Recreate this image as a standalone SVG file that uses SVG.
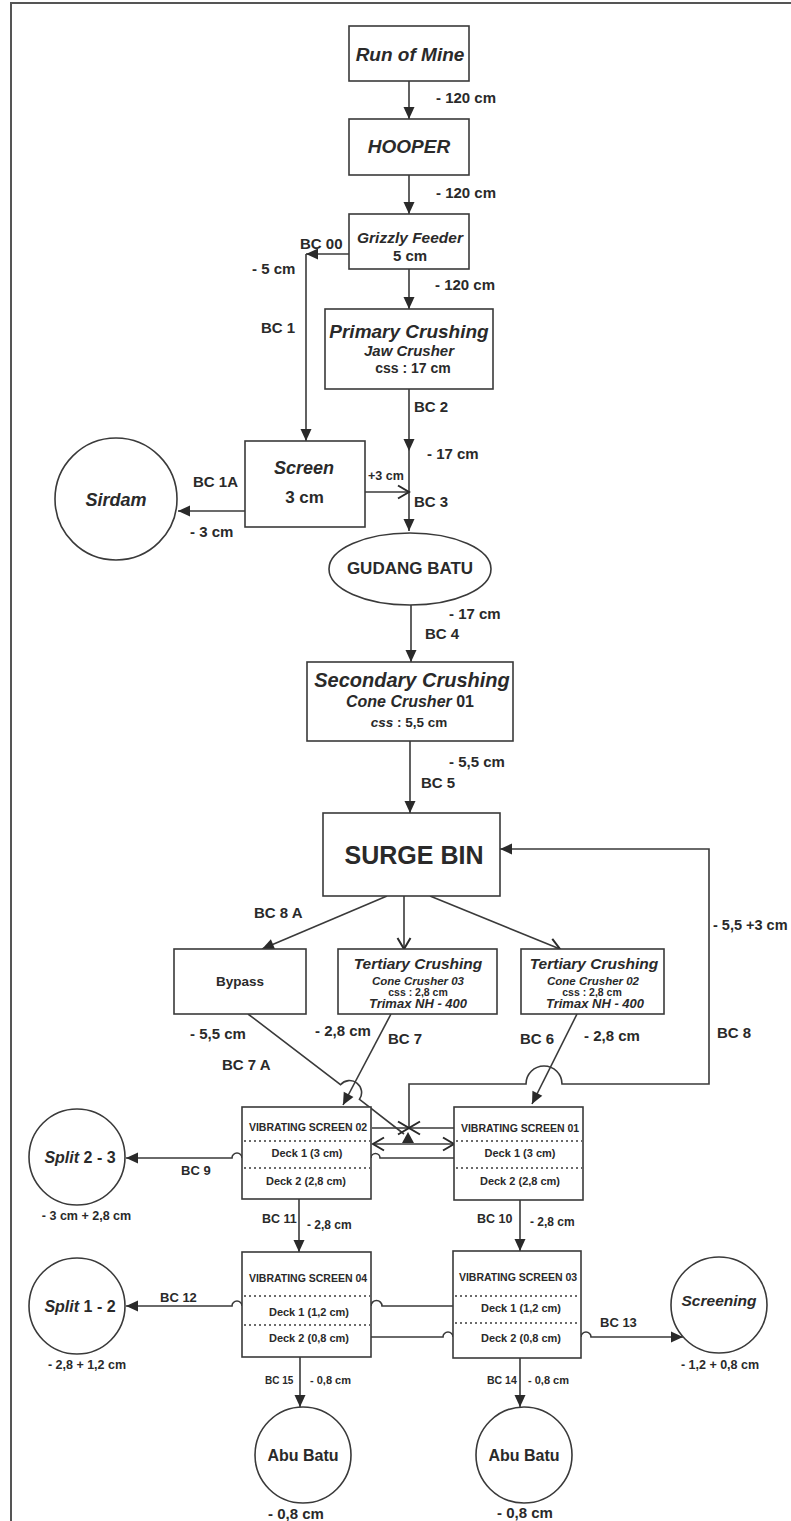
<svg xmlns="http://www.w3.org/2000/svg" width="791" height="1521" viewBox="0 0 791 1521">
<style>
.t{font-family:"Liberation Sans",Arial,sans-serif;font-weight:bold;fill:#2a2a2a}
.i{font-style:italic}
.c{text-anchor:middle}
.box{fill:#fff;stroke:#3a3a3a;stroke-width:1.6}
.ln{fill:none;stroke:#3a3a3a;stroke-width:1.6}
.dot{stroke:#3a3a3a;stroke-width:1.6;stroke-dasharray:2 3}
</style>
<defs>
<marker id="ah" markerUnits="userSpaceOnUse" markerWidth="14" markerHeight="14" refX="12" refY="6" orient="auto" style="overflow:visible"><path d="M0,0.5 L12,6 L0,11.5 z" fill="#2a2a2a"/></marker>
<marker id="oh" markerUnits="userSpaceOnUse" markerWidth="14" markerHeight="16" refX="12" refY="7" orient="auto-start-reverse" style="overflow:visible"><path d="M1,0.5 L12,7 L1,13.5" fill="none" stroke="#2a2a2a" stroke-width="2"/></marker>
</defs>
<rect width="791" height="1521" fill="#fff"/>
<path d="M11,1521 V3 H791" fill="none" stroke="#555" stroke-width="2"/>

<g id="connectors">
<path class="ln" d="M409,81 V119" marker-end="url(#ah)"/>
<path class="ln" d="M409,175 V214" marker-end="url(#ah)"/>
<path class="ln" d="M349,254 H306" marker-end="url(#ah)"/>
<path class="ln" d="M306,254 V441" marker-end="url(#ah)"/>
<path class="ln" d="M409,269 V309" marker-end="url(#ah)"/>
<path class="ln" d="M409,389 V451" marker-end="url(#ah)"/>
<path class="ln" d="M409,451 V531" marker-end="url(#ah)"/>
<path class="ln" d="M365,492 H409" marker-end="url(#oh)"/>
<path class="ln" d="M245,511 H178" marker-end="url(#ah)"/>
<path class="ln" d="M411,605 V662" marker-end="url(#ah)"/>
<path class="ln" d="M410,741 V813" marker-end="url(#ah)"/>
<path class="ln" d="M387,896 L262,949" marker-end="url(#ah)"/>
<path class="ln" d="M404,896 V949" marker-end="url(#oh)"/>
<path class="ln" d="M430,896 L560,949" marker-end="url(#oh)"/>
<path class="ln" d="M391,1014 L343,1105" marker-end="url(#ah)"/>
<path class="ln" d="M577,1014 L532,1104" marker-end="url(#ah)"/>
<path class="ln" d="M248,1014 L340.5,1084.7 A12,12 0 0 1 359.5,1099.3 L404,1134"/>
<polygon points="402,1143 408,1132 414,1143" fill="#2a2a2a"/>
<path class="ln" d="M409,1128 V1084 H526 A18,18 0 0 1 562,1084 H709 V849 H500" marker-end="url(#ah)"/>
<path class="ln" d="M372,1128 H409" marker-end="url(#oh)"/>
<path class="ln" d="M454,1128 H409" marker-end="url(#oh)"/>
<path class="ln" d="M373,1144 H454" marker-start="url(#oh)" marker-end="url(#oh)"/>
<path class="ln" d="M371,1158 A4.5,4.5 0 0 1 380,1158 H454"/>
<path class="ln" d="M242,1158 A5,5 0 0 0 232,1158 H126" marker-end="url(#ah)"/>
<path class="ln" d="M299,1199 V1252" marker-end="url(#ah)"/>
<path class="ln" d="M520,1200 V1251" marker-end="url(#ah)"/>
<path class="ln" d="M242,1306 A5,5 0 0 0 232,1306 H126" marker-end="url(#ah)"/>
<path class="ln" d="M371,1306 A5.5,5.5 0 0 1 382,1306 H453"/>
<path class="ln" d="M371,1337 H443 A5,5 0 0 1 453,1337"/>
<path class="ln" d="M581,1337 A5,5 0 0 1 591,1337 H683" marker-end="url(#ah)"/>
<path class="ln" d="M300,1357 V1407" marker-end="url(#ah)"/>
<path class="ln" d="M520,1358 V1407" marker-end="url(#ah)"/>
</g>

<g id="labels">
<text class="t" x="436" y="102.5" font-size="15">- 120 cm</text>
<text class="t" x="436" y="197.5" font-size="15">- 120 cm</text>
<text class="t" x="435" y="289.5" font-size="15">- 120 cm</text>
<text class="t" x="300" y="248.5" font-size="15">BC 00</text>
<text class="t" x="252" y="273.5" font-size="15">- 5 cm</text>
<text class="t" x="261" y="332.5" font-size="15">BC 1</text>
<text class="t" x="414" y="411.5" font-size="15">BC 2</text>
<text class="t" x="427" y="458.5" font-size="15">- 17 cm</text>
<text class="t" x="368" y="479.5" font-size="12.5">+3 cm</text>
<text class="t" x="414" y="506.5" font-size="15">BC 3</text>
<text class="t" x="193" y="486.5" font-size="15">BC 1A</text>
<text class="t" x="190" y="536.5" font-size="15">- 3 cm</text>
<text class="t" x="449" y="618.5" font-size="15">- 17 cm</text>
<text class="t" x="425" y="638.5" font-size="15">BC 4</text>
<text class="t" x="449" y="766.5" font-size="15">- 5,5 cm</text>
<text class="t" x="421" y="787.5" font-size="15">BC 5</text>
<text class="t" x="254" y="917.5" font-size="15">BC 8 A</text>
<text class="t" x="713" y="929.5" font-size="14.5">- 5,5 +3 cm</text>
<text class="t" x="717" y="1037.5" font-size="15">BC 8</text>
<text class="t" x="190" y="1038.5" font-size="15">- 5,5 cm</text>
<text class="t" x="315" y="1035.5" font-size="15">- 2,8 cm</text>
<text class="t" x="388" y="1043.5" font-size="15">BC 7</text>
<text class="t" x="520" y="1043.5" font-size="15">BC 6</text>
<text class="t" x="584" y="1040.5" font-size="15">- 2,8 cm</text>
<text class="t" x="222" y="1069.5" font-size="15">BC 7 A</text>
<text class="t" x="181" y="1174.5" font-size="13">BC 9</text>
<text class="t" x="262" y="1222.5" font-size="12.5">BC 11</text>
<text class="t" x="307" y="1229" font-size="12">- 2,8 cm</text>
<text class="t" x="477" y="1222.5" font-size="12.5">BC 10</text>
<text class="t" x="530" y="1226" font-size="12">- 2,8 cm</text>
<text class="t" x="160" y="1301.5" font-size="13">BC 12</text>
<text class="t" x="600" y="1326.5" font-size="13">BC 13</text>
<text class="t" x="265" y="1383.5" font-size="10">BC 15</text>
<text class="t" x="310" y="1384" font-size="11">- 0,8 cm</text>
<text class="t" x="487" y="1384" font-size="10.5">BC 14</text>
<text class="t" x="528" y="1384" font-size="11">- 0,8 cm</text>
</g>

<g id="run-of-mine">
<rect class="box" x="349" y="26" width="120" height="55"/>
<text class="t i c" x="410" y="61" font-size="19">Run of Mine</text>
</g>
<g id="hooper">
<rect class="box" x="349" y="119" width="120" height="56"/>
<text class="t i c" x="409" y="153" font-size="19">HOOPER</text>
</g>
<g id="grizzly-feeder">
<rect class="box" x="349" y="214" width="120" height="55"/>
<text class="t i c" x="410" y="242.5" font-size="15.5">Grizzly Feeder</text>
<text class="t c" x="410" y="261" font-size="15">5 cm</text>
</g>
<g id="primary-crushing">
<rect class="box" x="325" y="309" width="168" height="80"/>
<text class="t i c" x="409" y="338" font-size="19">Primary Crushing</text>
<text class="t i c" x="409" y="355.5" font-size="15">Jaw Crusher</text>
<text class="t c" x="413" y="373" font-size="14">css : 17 cm</text>
</g>
<g id="screen">
<rect class="box" x="245" y="441" width="120" height="86"/>
<text class="t i c" x="304" y="473.5" font-size="18">Screen</text>
<text class="t c" x="304.5" y="503" font-size="17">3 cm</text>
</g>
<g id="sirdam">
<circle class="box" cx="116" cy="499" r="61"/>
<text class="t i c" x="116" y="505.5" font-size="18">Sirdam</text>
</g>
<g id="gudang-batu">
<ellipse class="box" cx="410" cy="569" rx="81" ry="36"/>
<text class="t c" x="410" y="574" font-size="17">GUDANG BATU</text>
</g>
<g id="secondary-crushing">
<rect class="box" x="307" y="662" width="206" height="79"/>
<text class="t i c" x="412" y="687" font-size="20">Secondary Crushing</text>
<text class="t c" x="410" y="707" font-size="16"><tspan class="i">Cone Crusher</tspan> 01</text>
<text class="t c" x="409" y="727" font-size="13.5"><tspan class="i">css</tspan> : 5,5 cm</text>
</g>
<g id="surge-bin">
<rect class="box" x="323" y="813" width="177" height="83"/>
<text class="t c" x="414" y="864" font-size="25">SURGE BIN</text>
</g>
<g id="bypass">
<rect class="box" x="174" y="949" width="132" height="65"/>
<text class="t c" x="240" y="986" font-size="13.5">Bypass</text>
</g>
<g id="tertiary-crushing-03">
<rect class="box" x="338" y="949" width="159" height="65"/>
<text class="t i c" x="418" y="968.5" font-size="15.5">Tertiary Crushing</text>
<text class="t i c" x="418" y="985" font-size="11.5">Cone Crusher 03</text>
<text class="t c" x="418" y="995.5" font-size="10.5">css : 2,8 cm</text>
<text class="t i c" x="418" y="1008" font-size="13">Trimax NH - 400</text>
</g>
<g id="tertiary-crushing-02">
<rect class="box" x="521" y="949" width="143" height="65"/>
<text class="t i c" x="594" y="968.5" font-size="15.5">Tertiary Crushing</text>
<text class="t i c" x="593" y="985" font-size="11.5">Cone Crusher 02</text>
<text class="t c" x="592" y="995.5" font-size="10.5">css : 2,8 cm</text>
<text class="t i c" x="595" y="1008" font-size="13">Trimax NH - 400</text>
</g>
<g id="vibrating-screen-02">
<rect class="box" x="242" y="1107" width="129" height="92"/>
<line class="dot" x1="244" y1="1141" x2="370" y2="1141"/>
<line class="dot" x1="244" y1="1168" x2="370" y2="1168"/>
<text class="t c" x="308" y="1131" font-size="10.5">VIBRATING SCREEN 02</text>
<text class="t c" x="307" y="1157" font-size="11">Deck 1 (3 cm)</text>
<text class="t c" x="306" y="1185" font-size="11">Deck 2 (2,8 cm)</text>
</g>
<g id="vibrating-screen-01">
<rect class="box" x="454" y="1107" width="129" height="93"/>
<line class="dot" x1="456" y1="1141" x2="582" y2="1141"/>
<line class="dot" x1="456" y1="1168" x2="582" y2="1168"/>
<text class="t c" x="520" y="1132" font-size="10.5">VIBRATING SCREEN 01</text>
<text class="t c" x="520" y="1157" font-size="11">Deck 1 (3 cm)</text>
<text class="t c" x="520" y="1185" font-size="11">Deck 2 (2,8 cm)</text>
</g>
<g id="split-2-3">
<circle class="box" cx="77" cy="1157" r="48"/>
<text class="t c" x="80" y="1163" font-size="16"><tspan class="i">Split</tspan> 2 - 3</text>
<text class="t c" x="86.5" y="1219.5" font-size="12.5">- 3 cm + 2,8 cm</text>
</g>
<g id="vibrating-screen-04">
<rect class="box" x="242" y="1252" width="129" height="105"/>
<line class="dot" x1="244" y1="1296" x2="370" y2="1296"/>
<line class="dot" x1="244" y1="1325" x2="370" y2="1325"/>
<text class="t c" x="308" y="1282" font-size="10.5">VIBRATING SCREEN 04</text>
<text class="t c" x="309" y="1316" font-size="11">Deck 1 (1,2 cm)</text>
<text class="t c" x="309" y="1342" font-size="11">Deck 2 (0,8 cm)</text>
</g>
<g id="vibrating-screen-03">
<rect class="box" x="453" y="1251" width="128" height="107"/>
<line class="dot" x1="455" y1="1296" x2="580" y2="1296"/>
<line class="dot" x1="455" y1="1323" x2="580" y2="1323"/>
<text class="t c" x="518" y="1281" font-size="10.5">VIBRATING SCREEN 03</text>
<text class="t c" x="521" y="1312" font-size="11">Deck 1 (1,2 cm)</text>
<text class="t c" x="521" y="1342" font-size="11">Deck 2 (0,8 cm)</text>
</g>
<g id="split-1-2">
<circle class="box" cx="77" cy="1306" r="48"/>
<text class="t c" x="80" y="1312" font-size="16"><tspan class="i">Split</tspan> 1 - 2</text>
<text class="t c" x="87" y="1368.5" font-size="12.5">- 2,8 + 1,2 cm</text>
</g>
<g id="screening">
<circle class="box" cx="719" cy="1305" r="48"/>
<text class="t i c" x="719" y="1305.5" font-size="15.5">Screening</text>
<text class="t c" x="720" y="1368.5" font-size="12.5">- 1,2 + 0,8 cm</text>
</g>
<g id="abu-batu-1">
<circle class="box" cx="303" cy="1455" r="48"/>
<text class="t c" x="303" y="1461" font-size="16">Abu Batu</text>
<text class="t c" x="296" y="1519" font-size="15">- 0,8 cm</text>
</g>
<g id="abu-batu-2">
<circle class="box" cx="524" cy="1455" r="48"/>
<text class="t c" x="524" y="1461" font-size="16">Abu Batu</text>
<text class="t c" x="525" y="1518" font-size="15">- 0,8 cm</text>
</g>
</svg>
